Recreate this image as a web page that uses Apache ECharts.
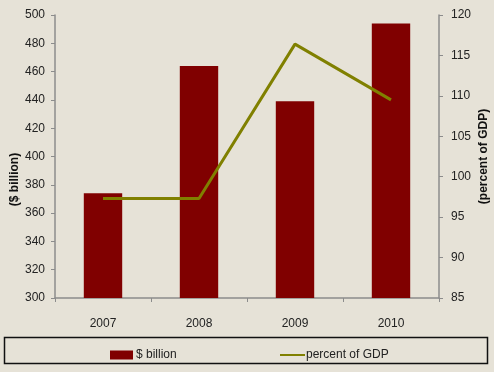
<!DOCTYPE html>
<html>
<head>
<meta charset="utf-8">
<style>
  html, body { margin: 0; padding: 0; background: #E6E2D7; }
  #chart { width: 494px; height: 372px; }
</style>
<script src="https://cdn.jsdelivr.net/npm/echarts@6/dist/echarts.min.js"></script>
</head>
<body>
<div id="chart"></div>
<script>
// Categories and series values
const years = ['2007', '2008', '2009', '2010'];
const billions = [374, 464, 439, 494];
const percentOfGDP = [97.3, 97.3, 116.4, 109.5];

const chart = echarts.init(document.getElementById('chart'), null, { renderer: 'canvas' });

const FONT = 'Liberation Sans, Arial, sans-serif';
const axisGray = '#8c8c8c';
const textColor = '#222';

chart.setOption({
  backgroundColor: '#E6E2D7',
  animation: false,
  grid: { left: 55, right: 55, top: 15, bottom: 74, containLabel: false, outerBoundsMode: 'none' },
  legend: [
    {
      left: 105, top: 344,
      itemWidth: 23, itemHeight: 9, itemGap: 4,
      textStyle: { fontFamily: FONT, fontSize: 12, color: textColor, padding: [0, 0, 0, -2] },
      data: [{ name: '$ billion', icon: 'rect' }]
    },
    {
      left: 275, top: 344,
      itemWidth: 25, itemHeight: 9,
      textStyle: { fontFamily: FONT, fontSize: 12, color: textColor, padding: [0, 0, 0, -4] },
      data: [{ name: 'percent of GDP', icon: 'path://M0,4 L25,4 L25,6 L0,6 Z' }]
    }
  ],
  graphic: [
    {
      type: 'rect',
      shape: { x: 4.5, y: 337.5, width: 483, height: 26 },
      style: { fill: 'none', stroke: '#111', lineWidth: 1.5 },
      silent: true
    }
  ],
  xAxis: {
    type: 'category',
    data: years,
    boundaryGap: true,
    axisLine: { lineStyle: { color: axisGray, width: 1.5 } },
    axisTick: { show: true, length: 4, lineStyle: { color: axisGray } },
    axisLabel: { fontFamily: FONT, fontSize: 12, color: textColor, margin: 20 }
  },
  yAxis: [
    {
      type: 'value',
      min: 300, max: 500, interval: 20,
      position: 'left',
      name: '($ billion)',
      nameLocation: 'middle',
      nameRotate: 90,
      nameGap: 34,
      nameMoveOverlap: false,
      nameTextStyle: { fontFamily: FONT, fontSize: 12, fontWeight: 'bold', color: '#111', padding: [0, 46, 0, 0] },
      splitLine: { show: false },
      axisLine: { show: true, lineStyle: { color: axisGray, width: 1.5 } },
      axisTick: { show: true, length: 4, lineStyle: { color: axisGray } },
      axisLabel: { fontFamily: FONT, fontSize: 12, color: textColor, margin: 10 }
    },
    {
      type: 'value',
      min: 85, max: 120, interval: 5,
      position: 'right',
      name: '(percent of GDP)',
      nameLocation: 'middle',
      nameRotate: 90,
      nameGap: 39,
      nameMoveOverlap: false,
      nameTextStyle: { fontFamily: FONT, fontSize: 12, fontWeight: 'bold', color: '#111' },
      splitLine: { show: false },
      axisLine: { show: true, lineStyle: { color: axisGray, width: 1.5 } },
      axisTick: { show: true, length: 4, lineStyle: { color: axisGray } },
      axisLabel: { fontFamily: FONT, fontSize: 12, color: textColor, margin: 12 }
    }
  ],
  series: [
    {
      name: '$ billion',
      type: 'bar',
      yAxisIndex: 0,
      data: billions,
      barWidth: '40%',
      itemStyle: { color: '#800000' }
    },
    {
      name: 'percent of GDP',
      type: 'line',
      yAxisIndex: 1,
      data: percentOfGDP,
      showSymbol: false,
      symbol: 'none',
      lineStyle: { color: '#808000', width: 3 },
      itemStyle: { color: '#808000' }
    }
  ]
});
</script>
</body>
</html>
